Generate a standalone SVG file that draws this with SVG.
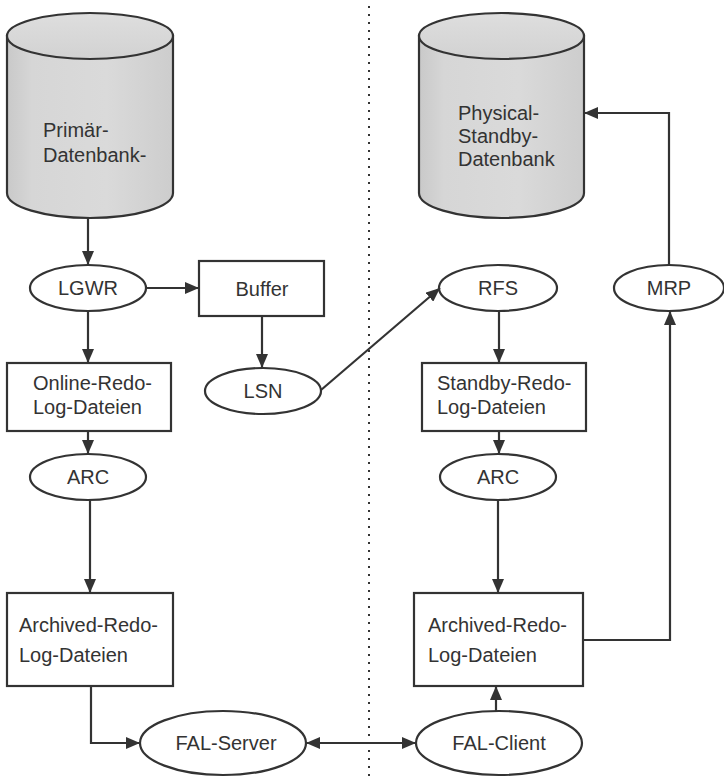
<svg xmlns="http://www.w3.org/2000/svg" width="724" height="779" viewBox="0 0 724 779">
  <style>
    .shape { fill: #ffffff; stroke: #333333; stroke-width: 2.2; }
    .db { fill: url(#dbFill); stroke: #333333; stroke-width: 2.2; }
    .dbTop { fill: url(#dbTopFill); stroke: #333333; stroke-width: 2.2; }
    .label { font-family: "Liberation Sans", Arial, sans-serif; font-size: 20px; fill: #333333; }
    .mid { text-anchor: middle; }
    .edge { fill: none; stroke: #333333; stroke-width: 2.2; }
    .divider { fill: none; stroke: #333333; stroke-width: 2; stroke-dasharray: 2 6; }
  </style>
  <defs>
    <linearGradient id="dbFill" x1="0" y1="0" x2="1" y2="0">
      <stop offset="0" stop-color="#c9c9c9"/>
      <stop offset="0.15" stop-color="#d6d6d6"/>
      <stop offset="0.6" stop-color="#dadada"/>
      <stop offset="1" stop-color="#cdcdcd"/>
    </linearGradient>
    <linearGradient id="dbTopFill" x1="0" y1="0" x2="0" y2="1">
      <stop offset="0" stop-color="#dedede"/>
      <stop offset="1" stop-color="#d2d2d2"/>
    </linearGradient>
    <marker id="arrow" viewBox="0 0 14 12" refX="14" refY="6" markerWidth="14" markerHeight="12" markerUnits="userSpaceOnUse" orient="auto-start-reverse">
      <path d="M0,0 L14,6 L0,12 Z" fill="#333333"/>
    </marker>
  </defs>

  <!-- site divider -->
  <line class="divider" x1="369" y1="6" x2="369" y2="776"/>

  <!-- primary database -->
  <g id="primary-db">
    <path class="db" d="M7,36 L7,193 A83,25 0 0 0 173,193 L173,36 Z"/>
    <ellipse class="dbTop" cx="90" cy="36" rx="83" ry="23"/>
    <text class="label" x="43" y="137">Primär-</text>
    <text class="label" x="43" y="162">Datenbank-</text>
  </g>

  <!-- standby database -->
  <g id="standby-db">
    <path class="db" d="M419,36 L419,193 A82.5,25 0 0 0 584,193 L584,36 Z"/>
    <ellipse class="dbTop" cx="501.5" cy="36" rx="82.5" ry="23"/>
    <text class="label" x="458" y="120">Physical-</text>
    <text class="label" x="458" y="143">Standby-</text>
    <text class="label" x="458" y="166">Datenbank</text>
  </g>

  <g id="lgwr">
    <ellipse class="shape" cx="88" cy="288" rx="58" ry="23"/>
    <text class="label mid" x="88" y="295">LGWR</text>
  </g>

  <g id="buffer">
    <rect class="shape" x="199" y="261" width="125" height="55"/>
    <text class="label mid" x="262" y="296">Buffer</text>
  </g>

  <g id="lsn">
    <ellipse class="shape" cx="263" cy="391" rx="58" ry="23"/>
    <text class="label mid" x="263" y="398">LSN</text>
  </g>

  <g id="online-redo">
    <rect class="shape" x="7" y="363" width="164" height="68"/>
    <text class="label" x="33" y="390">Online-Redo-</text>
    <text class="label" x="33" y="414">Log-Dateien</text>
  </g>

  <g id="arc-primary">
    <ellipse class="shape" cx="88" cy="477" rx="58" ry="23"/>
    <text class="label mid" x="88" y="484">ARC</text>
  </g>

  <g id="archived-primary">
    <rect class="shape" x="7" y="593" width="166" height="93"/>
    <text class="label" x="19" y="632">Archived-Redo-</text>
    <text class="label" x="19" y="662">Log-Dateien</text>
  </g>

  <g id="fal-server">
    <ellipse class="shape" cx="223" cy="743" rx="83" ry="32"/>
    <text class="label mid" x="226" y="750">FAL-Server</text>
  </g>

  <g id="rfs">
    <ellipse class="shape" cx="498" cy="288" rx="59" ry="23"/>
    <text class="label mid" x="498" y="295">RFS</text>
  </g>

  <g id="mrp">
    <ellipse class="shape" cx="669" cy="288" rx="55" ry="23"/>
    <text class="label mid" x="669" y="295">MRP</text>
  </g>

  <g id="standby-redo">
    <rect class="shape" x="422" y="363" width="164" height="68"/>
    <text class="label" x="437" y="390">Standby-Redo-</text>
    <text class="label" x="437" y="414">Log-Dateien</text>
  </g>

  <g id="arc-standby">
    <ellipse class="shape" cx="498" cy="477" rx="58" ry="23"/>
    <text class="label mid" x="498" y="484">ARC</text>
  </g>

  <g id="archived-standby">
    <rect class="shape" x="414" y="593" width="169" height="93"/>
    <text class="label" x="428" y="632">Archived-Redo-</text>
    <text class="label" x="428" y="662">Log-Dateien</text>
  </g>

  <g id="fal-client">
    <ellipse class="shape" cx="499" cy="743" rx="83" ry="32"/>
    <text class="label mid" x="499" y="750">FAL-Client</text>
  </g>

  <!-- connectors -->
  <g id="connectors">
    <line class="edge" x1="88" y1="218" x2="88" y2="265" marker-end="url(#arrow)"/>
    <line class="edge" x1="146" y1="288" x2="199" y2="288" marker-end="url(#arrow)"/>
    <line class="edge" x1="262" y1="316" x2="262" y2="368" marker-end="url(#arrow)"/>
    <line class="edge" x1="88" y1="311" x2="88" y2="363" marker-end="url(#arrow)"/>
    <line class="edge" x1="88" y1="431" x2="88" y2="454" marker-end="url(#arrow)"/>
    <line class="edge" x1="90" y1="500" x2="90" y2="593" marker-end="url(#arrow)"/>
    <polyline class="edge" points="91,686 91,743 140,743" marker-end="url(#arrow)"/>
    <line class="edge" x1="306" y1="743" x2="416" y2="743" marker-start="url(#arrow)" marker-end="url(#arrow)"/>
    <line class="edge" x1="321" y1="390" x2="440" y2="288" marker-end="url(#arrow)"/>
    <line class="edge" x1="499" y1="311" x2="499" y2="363" marker-end="url(#arrow)"/>
    <line class="edge" x1="499" y1="431" x2="499" y2="454" marker-end="url(#arrow)"/>
    <line class="edge" x1="498" y1="500" x2="498" y2="593" marker-end="url(#arrow)"/>
    <line class="edge" x1="496" y1="711" x2="496" y2="686" marker-end="url(#arrow)"/>
    <polyline class="edge" points="583,640 670,640 670,311" marker-end="url(#arrow)"/>
    <polyline class="edge" points="669,265 669,113 584,113" marker-end="url(#arrow)"/>
  </g>
</svg>
